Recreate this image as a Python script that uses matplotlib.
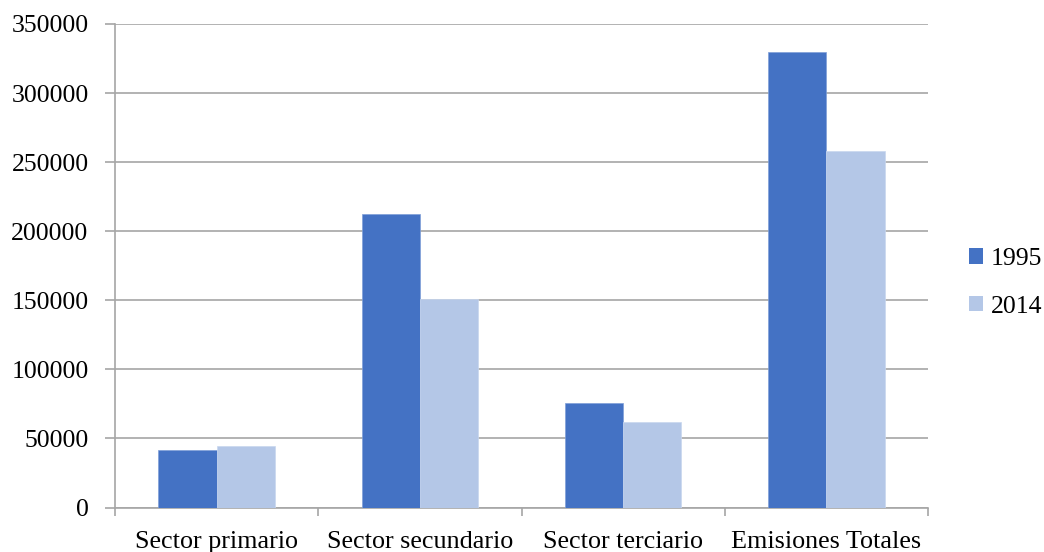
import matplotlib
matplotlib.use("Agg")
import matplotlib.pyplot as plt
import numpy as np
from matplotlib.patches import Patch

categories = ["Sector primario", "Sector secundario", "Sector terciario", "Emisiones Totales"]
series_names = ["1995", "2014"]
values_1995 = [41600, 212300, 75600, 330000]
values_2014 = [44700, 150700, 61900, 258100]
y_ticks = [0, 50000, 100000, 150000, 200000, 250000, 300000, 350000]

colors = ["#4472C4", "#B4C7E7"]
grid_color = "#A6A6A6"
fs = 18.5

plt.rcParams["font.family"] = ["Liberation Serif", "DejaVu Serif"]

fig = plt.figure(figsize=(10.44, 5.52), dpi=100)
ax = fig.add_axes([115 / 1044, 1 - 507.5 / 552, (928 - 115) / 1044, (507.5 - 24) / 552])

x = np.arange(len(categories))
w = 0.286
ax.bar(x - w / 2, values_1995, width=w, color=colors[0], edgecolor="#7F9FD8", linewidth=0.5, zorder=3)
ax.bar(x + w / 2, values_2014, width=w, color=colors[1], edgecolor="#C9D7EF", linewidth=0.5, zorder=3)

ax.set_xlim(-0.5, len(categories) - 0.5)
ax.set_ylim(0, 350000)
ax.set_yticks(y_ticks)
ax.set_yticklabels([str(v) for v in y_ticks], fontsize=fs)
ax.yaxis.grid(True, color=grid_color, linewidth=1.2, zorder=0)

ax.set_xticks(x)
ax.set_xticklabels(categories, fontsize=18.8)
ax.tick_params(axis="x", length=0, pad=17)
ax.set_xticks(np.arange(len(categories) + 1) - 0.5, minor=True)
ax.tick_params(axis="x", which="minor", length=6, color=grid_color, width=1.2)
ax.tick_params(axis="y", length=7, color=grid_color, width=1.2, pad=12)

for side in ["top", "right"]:
    ax.spines[side].set_visible(False)
for side in ["left", "bottom"]:
    ax.spines[side].set_color(grid_color)
    ax.spines[side].set_linewidth(1.2)

handles = [Patch(facecolor=c, edgecolor="none") for c in colors]
fig.legend(handles, series_names, loc="center left", bbox_to_anchor=(969 / 1044, 1 - 283 / 552),
           frameon=False, fontsize=fs, handlelength=0.55, handleheight=0.55,
           handletextpad=0.3, labelspacing=1.0, borderpad=0, borderaxespad=0)

fig.savefig("out.png", dpi=100)
